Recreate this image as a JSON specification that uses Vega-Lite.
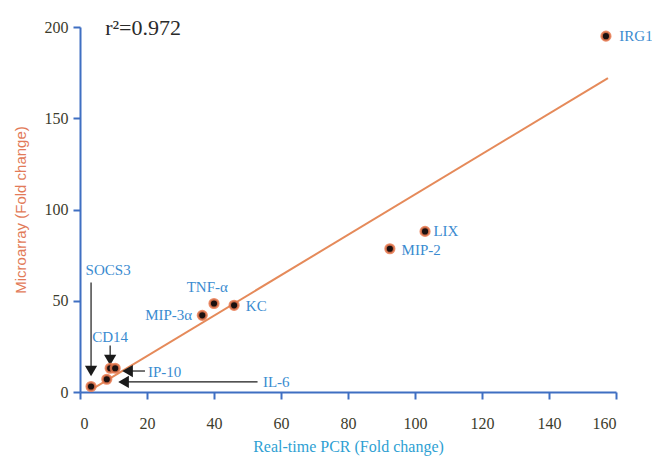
{
  "$schema": "https://vega.github.io/schema/vega-lite/v6.json",
  "autosize": "none",
  "width": 536,
  "height": 365,
  "padding": {"left": 80, "top": 27, "right": 36, "bottom": 64},
  "background": "white",
  "config": {"view": {"stroke": null}},
  "datasets": {
    "points": [
      {"gene": "IRG1", "pcr": 157, "micro": 195, "lx": 161, "ly": 195, "align": "left"},
      {"gene": "LIX", "pcr": 103, "micro": 88, "lx": 105.5, "ly": 88, "align": "left"},
      {"gene": "MIP-2", "pcr": 92.5, "micro": 78.5, "lx": 96, "ly": 78, "align": "left"},
      {"gene": "KC", "pcr": 46, "micro": 47.5, "lx": 49.5, "ly": 47, "align": "left"},
      {"gene": "TNF-α", "pcr": 40, "micro": 48.5, "lx": 38, "ly": 57.5, "align": "center"},
      {"gene": "MIP-3α", "pcr": 36.5, "micro": 42, "lx": 33.5, "ly": 42, "align": "right"},
      {"gene": "CD14", "pcr": 9, "micro": 13, "lx": 9, "ly": 30, "align": "center"},
      {"gene": "IP-10", "pcr": 10.5, "micro": 13, "lx": 20.3, "ly": 11, "align": "left"},
      {"gene": "IL-6", "pcr": 8, "micro": 7, "lx": 54.6, "ly": 5.5, "align": "left"},
      {"gene": "SOCS3", "pcr": 3.3, "micro": 3, "lx": 8.4, "ly": 67, "align": "center"}
    ],
    "fit": [
      {"pcr": 4, "micro": 2},
      {"pcr": 157.6, "micro": 172}
    ],
    "arrows": [
      {"x": 3.3, "y": 60, "x2": 3.3, "y2": 12},
      {"x": 9, "y": 25.5, "x2": 9, "y2": 17},
      {"x": 19.4, "y": 11.5, "x2": 14, "y2": 11.5},
      {"x": 53, "y": 5.5, "x2": 12.8, "y2": 5.5}
    ],
    "heads": [
      {"x": 3.3, "y": 11.5, "shape": "triangle-down"},
      {"x": 9, "y": 17.5, "shape": "triangle-down"},
      {"x": 14.2, "y": 11.5, "shape": "triangle-left"},
      {"x": 13, "y": 5.5, "shape": "triangle-left"}
    ],
    "annot": [{"text": "r²=0.972", "x": 7.5, "y": 199.5}]
  },
  "layer": [
    {
      "data": {"name": "fit"},
      "mark": {"type": "line", "color": "#e58a5a", "strokeWidth": 2},
      "encoding": {
        "x": {
          "field": "pcr", "type": "quantitative",
          "scale": {"domain": [0, 160], "nice": false, "zero": false},
          "axis": {
            "title": "Real-time PCR (Fold change)",
            "values": [0, 20, 40, 60, 80, 100, 120, 140, 160],
            "grid": false,
            "domainColor": "#3f6fc2", "domainWidth": 2,
            "tickColor": "#3f6fc2", "tickWidth": 2, "tickSize": 7,
            "labelFont": "Liberation Serif", "labelFontSize": 16, "labelColor": "#3c3c2c",
            "labelPadding": 16,
            "titleFont": "Liberation Serif", "titleFontSize": 16, "titleFontWeight": "normal",
            "titleColor": "#2e9fd3", "titlePadding": 7
          }
        },
        "y": {
          "field": "micro", "type": "quantitative",
          "scale": {"domain": [0, 200], "nice": false, "zero": false},
          "axis": {
            "title": "Microarray (Fold change)",
            "values": [0, 50, 100, 150, 200],
            "grid": false,
            "domainColor": "#3f6fc2", "domainWidth": 2,
            "tickColor": "#3f6fc2", "tickWidth": 2, "tickSize": 7,
            "labelFont": "Liberation Serif", "labelFontSize": 16, "labelColor": "#3c3c2c",
            "labelPadding": 5,
            "titleFont": "Liberation Sans", "titleFontSize": 15, "titleFontWeight": "normal",
            "titleColor": "#e27a58", "titlePadding": 16
          }
        }
      }
    },
    {
      "data": {"name": "arrows"},
      "mark": {"type": "rule", "color": "#1a1a1a", "strokeWidth": 1.2},
      "encoding": {
        "x": {"field": "x", "type": "quantitative"},
        "y": {"field": "y", "type": "quantitative"},
        "x2": {"field": "x2"},
        "y2": {"field": "y2"}
      }
    },
    {
      "data": {"name": "heads"},
      "mark": {"type": "point", "filled": true, "color": "#1a1a1a", "size": 150, "opacity": 1},
      "encoding": {
        "x": {"field": "x", "type": "quantitative"},
        "y": {"field": "y", "type": "quantitative"},
        "shape": {"field": "shape", "type": "nominal", "scale": null, "legend": null}
      }
    },
    {
      "data": {"name": "points"},
      "mark": {"type": "point", "filled": true, "color": "#1a1010", "stroke": "#e8784e", "strokeWidth": 2.5, "size": 75, "opacity": 1, "strokeOpacity": 0.85},
      "encoding": {
        "x": {"field": "pcr", "type": "quantitative"},
        "y": {"field": "micro", "type": "quantitative"}
      }
    },
    {
      "data": {"name": "points"},
      "transform": [{"filter": "datum.align == 'left'"}],
      "mark": {"type": "text", "align": "left", "baseline": "middle", "font": "Liberation Serif", "fontSize": 15, "color": "#3a8bd0"},
      "encoding": {
        "x": {"field": "lx", "type": "quantitative"},
        "y": {"field": "ly", "type": "quantitative"},
        "text": {"field": "gene"}
      }
    },
    {
      "data": {"name": "points"},
      "transform": [{"filter": "datum.align == 'center'"}],
      "mark": {"type": "text", "align": "center", "baseline": "middle", "font": "Liberation Serif", "fontSize": 15, "color": "#3a8bd0"},
      "encoding": {
        "x": {"field": "lx", "type": "quantitative"},
        "y": {"field": "ly", "type": "quantitative"},
        "text": {"field": "gene"}
      }
    },
    {
      "data": {"name": "points"},
      "transform": [{"filter": "datum.align == 'right'"}],
      "mark": {"type": "text", "align": "right", "baseline": "middle", "font": "Liberation Serif", "fontSize": 15, "color": "#3a8bd0"},
      "encoding": {
        "x": {"field": "lx", "type": "quantitative"},
        "y": {"field": "ly", "type": "quantitative"},
        "text": {"field": "gene"}
      }
    },
    {
      "data": {"name": "annot"},
      "mark": {"type": "text", "align": "left", "baseline": "middle", "font": "Liberation Serif", "fontSize": 22, "color": "#2a2a2a"},
      "encoding": {
        "x": {"field": "x", "type": "quantitative"},
        "y": {"field": "y", "type": "quantitative"},
        "text": {"field": "text"}
      }
    }
  ]
}
